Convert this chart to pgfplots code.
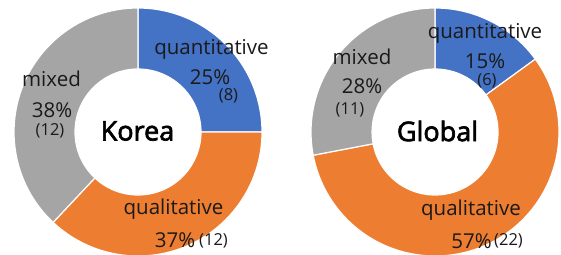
\documentclass[border=0pt]{standalone}
\usepackage{pgfplots}
\pgfplotsset{compat=1.18}
\usepackage{fontspec}
\setmainfont{Open Sans}
\newfontfamily\centerfont[FakeBold=2.5]{Open Sans}
\definecolor{cblue}{HTML}{4472C4}
\definecolor{corange}{HTML}{ED7D31}
\definecolor{cgrey}{HTML}{A5A5A5}
\definecolor{ctext}{HTML}{1A1A1A}
% percentages: quantitative, qualitative, mixed
\def\KoreaA{25}\def\KoreaB{37}\def\KoreaC{38}
\def\GlobalA{15}\def\GlobalB{57}\def\GlobalC{28}
\def\Rout{124}\def\Rin{63}
\newcommand\sector[5]{%
  \pgfmathsetmacro\sa{#3}\pgfmathsetmacro\ea{#4}%
  \edef\tmp{\noexpand\fill[#5, draw=white, line width=1.2pt]
    ([shift={(\sa:\Rout)}]axis cs:#1,#2) arc[start angle=\sa, end angle=\ea, radius=\Rout]
    -- ([shift={(\ea:\Rin)}]axis cs:#1,#2) arc[start angle=\ea, end angle=\sa, radius=\Rin] -- cycle;}%
  \tmp
}
\newcommand\donut[5]{% cx, cy, a, b, c
  \pgfmathsetmacro\aone{90-3.6*#3}%
  \pgfmathsetmacro\atwo{\aone-3.6*#4}%
  \sector{#1}{#2}{90}{\aone}{cblue}%
  \sector{#1}{#2}{\aone}{\atwo}{corange}%
  \sector{#1}{#2}{\atwo}{-270}{cgrey}%
}
\begin{document}
\begin{tikzpicture}
\begin{axis}[
  width=561pt, height=254pt, scale only axis,
  xmin=0, xmax=561, ymin=0, ymax=254,
  hide axis, clip=true,
]
\donut{138}{122}{\KoreaA}{\KoreaB}{\KoreaC}
\donut{435}{122}{\GlobalA}{\GlobalB}{\GlobalC}
\begin{scope}[every node/.style={text=ctext, inner sep=0pt, font=\fontsize{20.5}{22}\selectfont}]
% Korea
\node at (axis cs:211.5,205) {quantitative};
\node at (axis cs:210,176.5) {25\%};
\node[font=\fontsize{16.5}{18}\selectfont] at (axis cs:228.5,158) {(8)};
\node at (axis cs:51.5,175) {mixed};
\node at (axis cs:52,143.5) {38\%};
\node[font=\fontsize{16.5}{18}\selectfont] at (axis cs:50,123) {(12)};
\node at (axis cs:173.5,45) {qualitative};
\node at (axis cs:175,13.5) {37\%};
\node[font=\fontsize{16.5}{18}\selectfont] at (axis cs:213.5,13) {(12)};
\node[text=black, font=\fontsize{27}{30}\centerfont] at (axis cs:137.5,123) {Korea};
% Global
\node at (axis cs:485,221) {quantitative};
\node at (axis cs:485,193) {15\%};
\node[font=\fontsize{16.5}{18}\selectfont] at (axis cs:487,173) {(6)};
\node at (axis cs:362,197.5) {mixed};
\node at (axis cs:362,167.5) {28\%};
\node[font=\fontsize{16.5}{18}\selectfont] at (axis cs:350,144) {(11)};
\node at (axis cs:471,43.5) {qualitative};
\node at (axis cs:471.5,13) {57\%};
\node[font=\fontsize{16.5}{18}\selectfont] at (axis cs:508.5,13) {(22)};
\node[text=black, font=\fontsize{27}{30}\centerfont] at (axis cs:437.5,123) {Global};
\end{scope}
\end{axis}
\pgfresetboundingbox
\path[use as bounding box] (current axis.south west) rectangle (current axis.north east);
\end{tikzpicture}
\end{document}
